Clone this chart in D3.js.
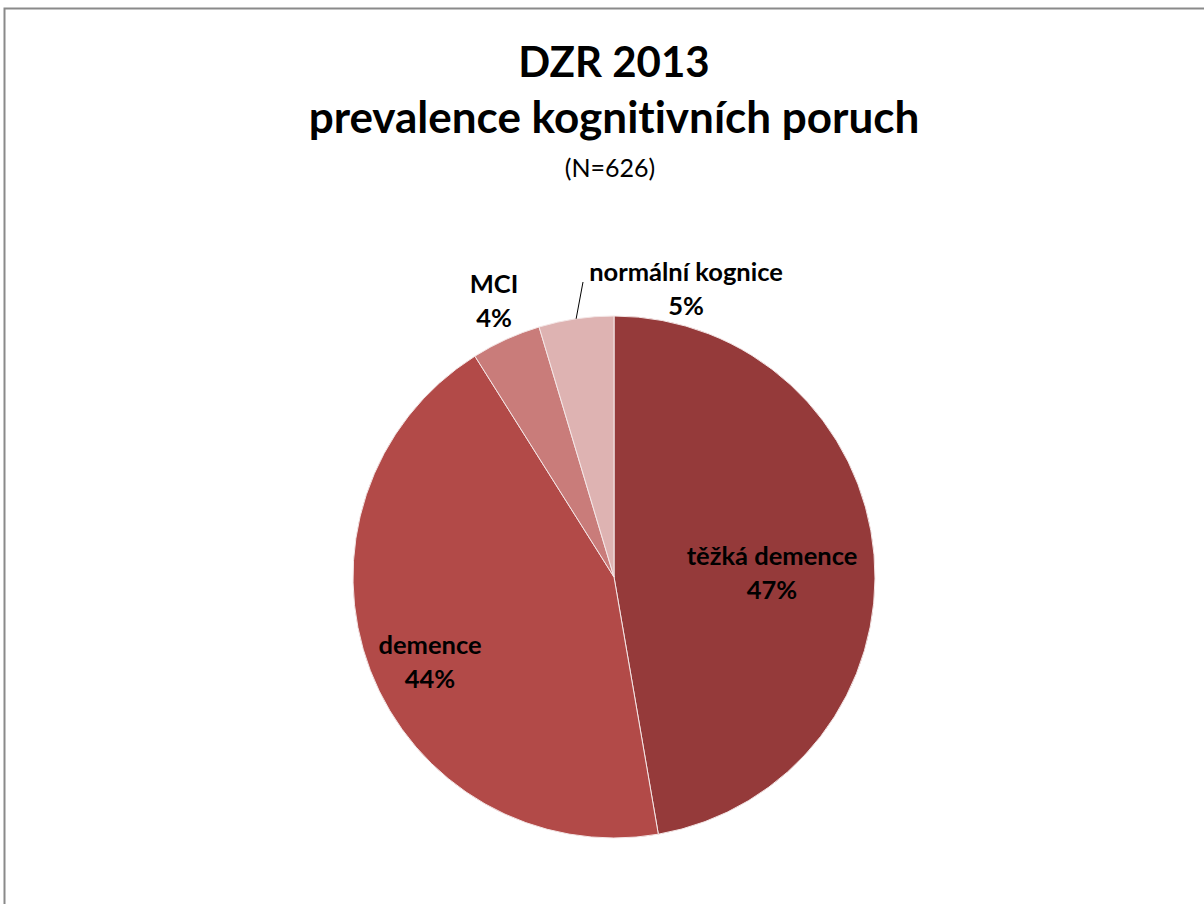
<!DOCTYPE html>
<html>
<head>
<meta charset="utf-8">
<script src="https://cdn.jsdelivr.net/npm/d3@7"></script>
<style>
  html, body { margin: 0; padding: 0; background: #fff; }
  svg { display: block; }
  text { font-family: Lato, "Open Sans", sans-serif; fill: #000; font-variant-ligatures: none; font-feature-settings: "liga" 0, "clig" 0; }
</style>
</head>
<body>
<svg id="chart" width="1204" height="904"></svg>
<script>
// Cognitive status of residents (counts, N = 626)
const categories = ["těžká demence", "demence", "MCI", "normální kognice"];
const counts = [296, 274, 27, 29];
const colors = ["#953a3a", "#b24a48", "#c97c7a", "#deb3b2"];
const titleLines = ["DZR 2013", "prevalence kognitivních poruch"];
const subtitle = "(N=626)";

const total = d3.sum(counts);
const svg = d3.select("#chart");

// outer frame
svg.append("rect")
  .attr("x", 4.5).attr("y", 8.5)
  .attr("width", 1220).attr("height", 920)
  .attr("fill", "none").attr("stroke", "#8a8a8a").attr("stroke-width", 2);

// titles
svg.append("text").attr("x", 614).attr("y", 77)
  .attr("text-anchor", "middle").attr("font-size", 42).attr("font-weight", 700)
  .text(titleLines[0]);
svg.append("text").attr("x", 614).attr("y", 133)
  .attr("text-anchor", "middle").attr("font-size", 44).attr("font-weight", 700)
  .text(titleLines[1]);
svg.append("text").attr("x", 610).attr("y", 177)
  .attr("text-anchor", "middle").attr("font-size", 25)
  .text(subtitle);

// pie
const cx = 614, cy = 577, r = 261;
const pie = d3.pie().sort(null).value(d => d)(counts);
const arc = d3.arc().innerRadius(0).outerRadius(r);
const g = svg.append("g").attr("transform", `translate(${cx},${cy})`);

g.selectAll("path").data(pie).join("path")
  .attr("d", arc)
  .attr("fill", (d, i) => colors[i])
  .attr("stroke", "#f4e6e6").attr("stroke-width", 1);

const pct = v => Math.round(v / total * 100) + "%";

// label anchors (first-line baseline), relative to the pie centre;
// the two small slices are labelled outside the pie
const labelPos = [[158, -12], [-184, 77], [-120, -284], [72, -296]];

const labels = g.selectAll("g.lbl").data(pie).join("g")
  .attr("class", "lbl")
  .attr("transform", (d, i) => `translate(${labelPos[i][0]},${labelPos[i][1]})`);
labels.append("text")
  .attr("text-anchor", "middle").attr("font-size", 25.5).attr("font-weight", 700)
  .text((d, i) => categories[i]);
labels.append("text")
  .attr("text-anchor", "middle").attr("font-size", 25.5).attr("font-weight", 700)
  .attr("y", 34)
  .text(d => pct(d.value));

// leader line for "normální kognice"
const nk = pie[3];
const mid = (nk.startAngle + nk.endAngle) / 2;
g.append("line")
  .attr("x1", Math.sin(mid) * r).attr("y1", -Math.cos(mid) * r)
  .attr("x2", -31).attr("y2", -295)
  .attr("stroke", "#000").attr("stroke-width", 1);
</script>
</body>
</html>
